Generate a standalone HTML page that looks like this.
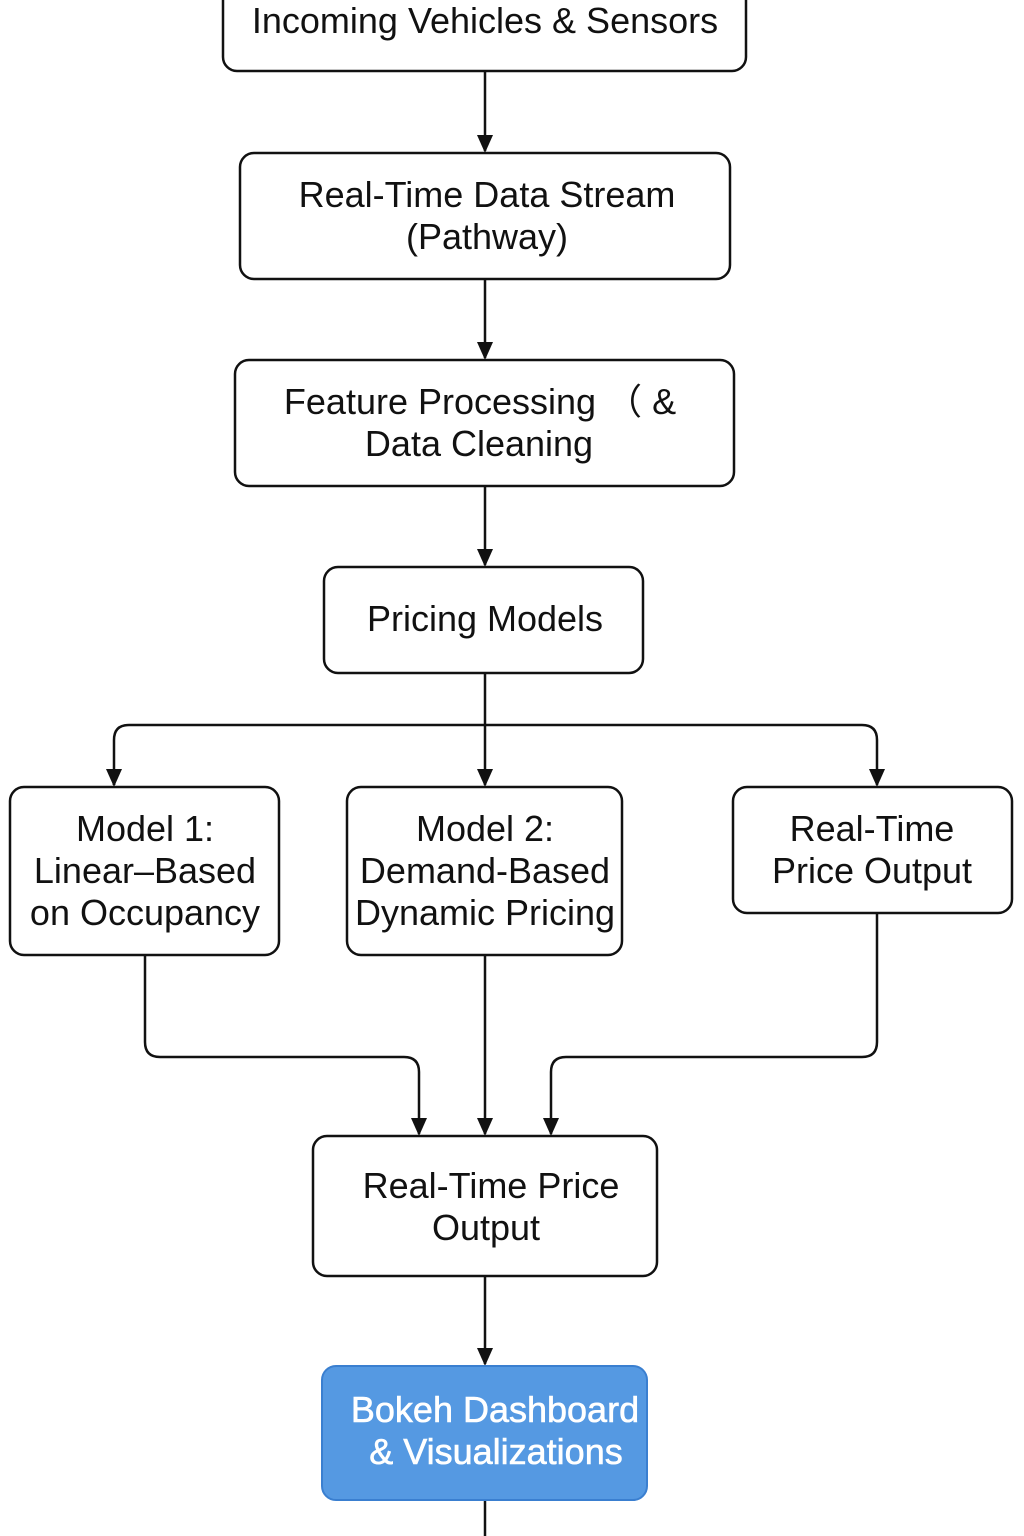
<!DOCTYPE html>
<html><head><meta charset="utf-8"><style>
html,body{margin:0;padding:0;background:#fff;}
svg{display:block;}
text{font-family:"Liberation Sans","Noto Sans CJK SC",sans-serif;font-size:36px;fill:#111;text-anchor:middle;}
</style></head><body>
<svg width="1024" height="1536" viewBox="0 0 1024 1536" xmlns="http://www.w3.org/2000/svg">
<defs>
<marker id="b" markerWidth="18" markerHeight="20" refX="16" refY="10" orient="auto" markerUnits="userSpaceOnUse" viewBox="0 0 18 20"><path d="M0,2 L18,10 L0,18 z" fill="#111"/></marker></defs>
<g fill="none" stroke="#111" stroke-width="2.5">
<rect x="223" y="-20" width="523" height="91" rx="14"/>
<rect x="240" y="153" width="490" height="126" rx="14"/>
<rect x="235" y="360" width="499" height="126" rx="14"/>
<rect x="324" y="567" width="319" height="106" rx="14"/>
<rect x="10" y="787" width="269" height="168" rx="14"/>
<rect x="347" y="787" width="275" height="168" rx="14"/>
<rect x="733" y="787" width="279" height="126" rx="14"/>
<rect x="313" y="1136" width="344" height="140" rx="14"/>
<path d="M485 71 V151" marker-end="url(#b)"/>
<path d="M485 279 V358" marker-end="url(#b)"/>
<path d="M485 486 V565" marker-end="url(#b)"/>
<path d="M485 673 V785" marker-end="url(#b)"/>
<path d="M114 785 V740 Q114 725 129 725 H862 Q877 725 877 740 V785" marker-end="url(#b)"/>
<path d="M114 770 V785" marker-end="url(#b)"/>
<path d="M145 955 V1042 Q145 1057 160 1057 H404 Q419 1057 419 1072 V1134" marker-end="url(#b)"/>
<path d="M485 955 V1134" marker-end="url(#b)"/>
<path d="M877 913 V1042 Q877 1057 862 1057 H566 Q551 1057 551 1072 V1134" marker-end="url(#b)"/>
<path d="M485 1276 V1364" marker-end="url(#b)"/>
<path d="M485 1500 V1536"/>
</g>
<rect x="322" y="1366" width="325" height="134" rx="14" fill="#5599e2" stroke="#3a7fd0" stroke-width="2"/>
<text x="485" y="33">Incoming Vehicles &amp; Sensors</text>
<text x="487" y="207">Real-Time Data Stream</text>
<text x="487" y="249">(Pathway)</text>
<text x="480" y="414">Feature Processing （ &amp;</text>
<text x="479" y="456">Data Cleaning</text>
<text x="485" y="631">Pricing Models</text>
<text x="145" y="841">Model 1:</text>
<text x="145" y="883">Linear–Based</text>
<text x="145" y="925">on Occupancy</text>
<text x="485" y="841">Model 2:</text>
<text x="485" y="883">Demand-Based</text>
<text x="485" y="925">Dynamic Pricing</text>
<text x="872" y="841">Real-Time</text>
<text x="872" y="883">Price Output</text>
<text x="491" y="1198">Real-Time Price</text>
<text x="486" y="1240">Output</text>
<text x="495" y="1422" style="fill:#fff;stroke:#fff;stroke-width:0.6">Bokeh Dashboard</text>
<text x="496" y="1464" style="fill:#fff;stroke:#fff;stroke-width:0.6">&amp; Visualizations</text>
</svg>
</body></html>
